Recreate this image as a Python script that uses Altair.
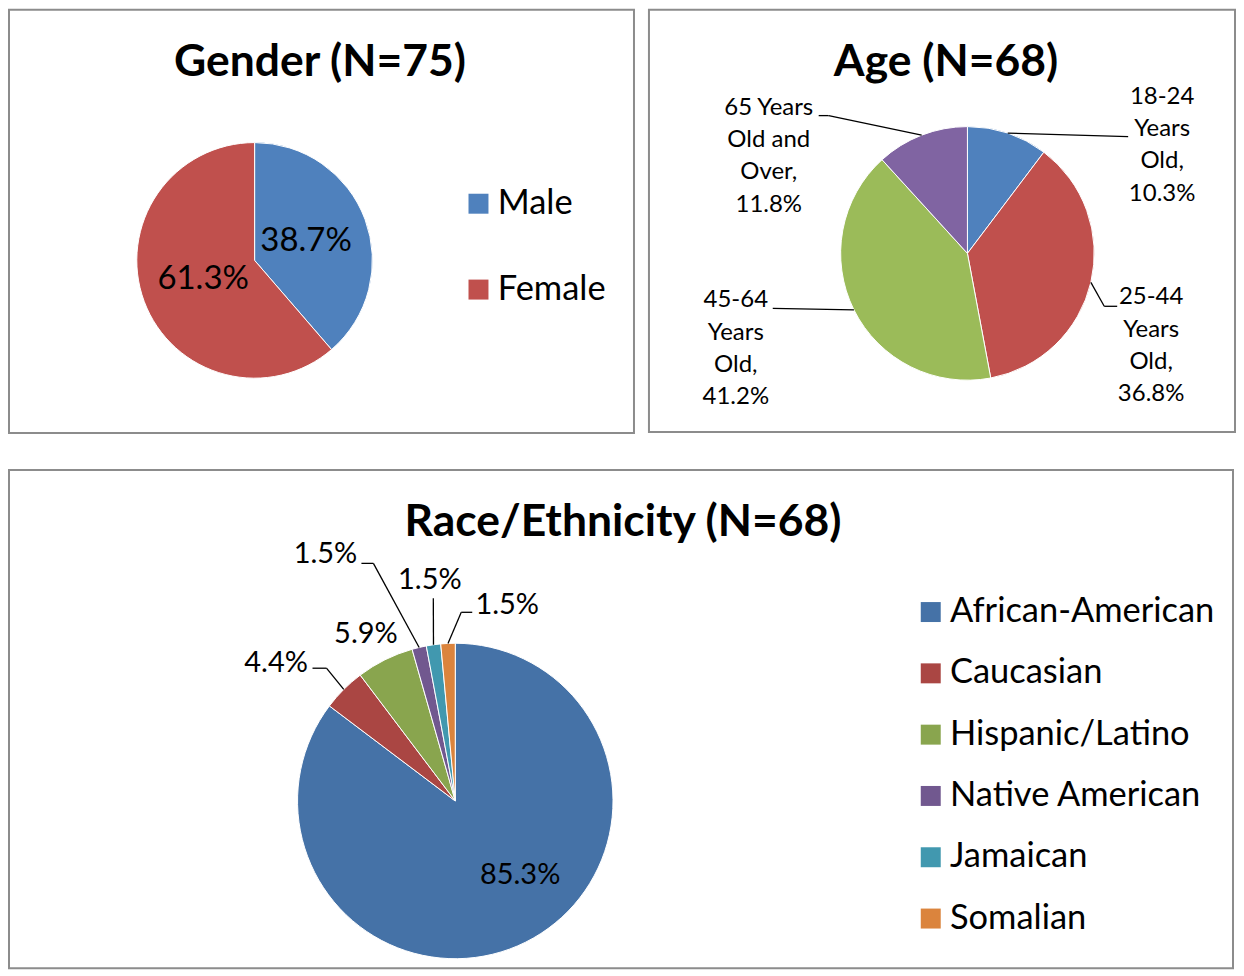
import math
import altair as alt
import pandas as pd

# ---------------- data ----------------
gender_title = "Gender (N=75)"
gender_cats = ["Male", "Female"]
gender_counts = [29, 46]
gender_pct = ["38.7%", "61.3%"]

age_title = "Age (N=68)"
age_cats = ["18-24 Years Old", "25-44 Years Old", "45-64 Years Old", "65 Years Old and Over"]
age_counts = [7, 25, 28, 8]
age_label_lines = [
    ["18-24", "Years", "Old,", "10.3%"],
    ["25-44", "Years", "Old,", "36.8%"],
    ["45-64", "Years", "Old,", "41.2%"],
    ["65 Years", "Old and", "Over,", "11.8%"],
]

race_title = "Race/Ethnicity (N=68)"
race_cats = ["African-American", "Caucasian", "Hispanic/Latino",
             "Native American", "Jamaican", "Somalian"]
race_counts = [58, 3, 4, 1, 1, 1]
race_pct = ["85.3%", "4.4%", "5.9%", "1.5%", "1.5%", "1.5%"]

# ---------------- styles ----------------
FONT = "Lato"
OFFICE = ["#4F81BD", "#C0504D", "#9BBB59", "#8064A2"]
RACE_COLORS = ["#4572A7", "#AA4643", "#89A54E", "#71588F", "#4198AF", "#DB843D"]
BORDER = "#8c8c8c"
TITLE_SIZE = 44.5
LEGEND_SIZE = 34.5

# ---------------- layout (pixels) ----------------
GW, GH = 626, 424
AW, AH = 587, 423
RW, RH = 1226, 499
G_CENTER, G_R = (246, 251), 118
A_CENTER, A_R = (319, 244), 127
R_CENTER, R_R = (447, 331.5), 158
TITLE_Y = 66
AGE_LINE_H = 32.4
# label anchor (relative to pie centre) and leader path after the slice edge
AGE_LAYOUT = [
    dict(pos=(195, -157), path=[(161, -117)]),
    dict(pos=(184, 44), path=[(137, 53), (150, 53)]),
    dict(pos=(-232, 47), path=[(-195, 55)]),
    dict(pos=(-199, -146), path=[(-139, -138), (-149, -138)]),
]
RACE_LAYOUT = [
    dict(pos=(65, 74), path=[]),
    dict(pos=(-179.5, -138), path=[(-129, -133), (-143, -133)]),
    dict(pos=(-89.5, -167.5), path=[]),
    dict(pos=(-130, -247.5), path=[(-82, -238), (-94, -238)]),
    dict(pos=(-25.5, -221.5), path=[(-22, -203)]),
    dict(pos=(52, -196), path=[(6, -189), (17, -189)]),
]


def px_scale(n):
    return alt.Scale(domain=[0, n], range=[0, n], nice=False, zero=False)


def edge_points(counts, center, r):
    total = float(sum(counts))
    cum = 0.0
    pts = []
    for c in counts:
        mid = (cum + c / 2.0) / total * 2 * math.pi
        pts.append((center[0] + r * math.sin(mid), center[1] - r * math.cos(mid)))
        cum += c
    return pts


def pie(cats, counts, colors, center, r, legend):
    df = pd.DataFrame({"cat": cats, "count": counts, "idx": list(range(len(cats)))})
    return alt.Chart(df).mark_arc(radius=r, stroke="white", strokeWidth=1).encode(
        theta=alt.Theta("count:Q", stack=True),
        color=alt.Color("cat:N", scale=alt.Scale(domain=cats, range=colors), legend=legend),
        order=alt.Order("idx:Q"),
        x=alt.value(center[0]),
        y=alt.value(center[1]),
    )


def title(text, x):
    return alt.Chart(pd.DataFrame({"t": [text]})).mark_text(
        font=FONT, fontSize=TITLE_SIZE, fontWeight="bold", align="center",
        baseline="alphabetic", color="black"
    ).encode(x=alt.value(x), y=alt.value(TITLE_Y), text="t:N")


def text_layer(rows, W, H, size):
    return alt.Chart(pd.DataFrame(rows)).mark_text(
        font=FONT, fontSize=size, align="center", baseline="middle", color="black"
    ).encode(
        x=alt.X("px:Q", scale=px_scale(W), axis=None),
        y=alt.Y("py:Q", scale=px_scale(H), axis=None),
        text="text:N",
    )


def leader_layer(segs, W, H):
    return alt.Chart(pd.DataFrame(segs)).mark_rule(color="black", strokeWidth=1.3).encode(
        x=alt.X("x:Q", scale=px_scale(W), axis=None), x2="x2:Q",
        y=alt.Y("y:Q", scale=px_scale(H), axis=None), y2="y2:Q",
    )


def leaders(counts, center, r, layout):
    edges = edge_points(counts, center, r)
    segs = []
    for (ex, ey), lay in zip(edges, layout):
        pts = [(ex, ey)] + [(center[0] + dx, center[1] + dy) for dx, dy in lay["path"]]
        for (x1, y1), (x2, y2) in zip(pts[:-1], pts[1:]):
            segs.append({"x": x1, "y": y1, "x2": x2, "y2": y2})
    return segs


def legend(x, y, row_pad):
    return alt.Legend(
        orient="none", legendX=x, legendY=y, direction="vertical", title=None,
        symbolType="square", symbolSize=400, symbolStrokeWidth=0, symbolOpacity=1,
        labelFont=FONT, labelFontSize=LEGEND_SIZE, labelColor="black", labelLimit=600,
        labelOffset=2, rowPadding=row_pad, padding=0,
    )


# ---------------- Gender ----------------
g_df = pd.DataFrame({"cat": gender_cats, "count": gender_counts,
                     "pct": gender_pct, "idx": list(range(len(gender_cats)))})
g_labels = alt.Chart(g_df).mark_text(
    radius=55, font=FONT, fontSize=33, color="black", align="center", baseline="middle"
).encode(
    theta=alt.Theta("count:Q", stack=True),
    order=alt.Order("idx:Q"),
    text="pct:N",
    x=alt.value(G_CENTER[0]),
    y=alt.value(G_CENTER[1]),
)
gender = alt.layer(
    pie(gender_cats, gender_counts, OFFICE[:2], G_CENTER, G_R, legend(453, 177, 51)),
    g_labels,
    title(gender_title, 311.5),
).properties(width=GW, height=GH)

# ---------------- Age ----------------
a_rows = []
for lines, lay in zip(age_label_lines, AGE_LAYOUT):
    for i, ln in enumerate(lines):
        a_rows.append({"px": A_CENTER[0] + lay["pos"][0],
                       "py": A_CENTER[1] + lay["pos"][1] + i * AGE_LINE_H,
                       "text": ln})
age = alt.layer(
    pie(age_cats, age_counts, OFFICE, A_CENTER, A_R, None),
    leader_layer(leaders(age_counts, A_CENTER, A_R, AGE_LAYOUT), AW, AH),
    text_layer(a_rows, AW, AH, 24),
    title(age_title, 297.5),
).properties(width=AW, height=AH)

# ---------------- Race ----------------
r_rows = [{"px": R_CENTER[0] + lay["pos"][0], "py": R_CENTER[1] + lay["pos"][1], "text": t}
          for t, lay in zip(race_pct, RACE_LAYOUT)]
race = alt.layer(
    pie(race_cats, race_counts, RACE_COLORS, R_CENTER, R_R, legend(906, 125, 26.4)),
    leader_layer(leaders(race_counts, R_CENTER, R_R, RACE_LAYOUT), RW, RH),
    text_layer(r_rows, RW, RH, 29),
    title(race_title, 615),
).properties(width=RW, height=RH)

top = alt.hconcat(gender, age, spacing=13).resolve_scale(
    color="independent", theta="independent", x="independent", y="independent"
).resolve_legend(color="independent")

chart = alt.vconcat(top, race, spacing=35).resolve_scale(
    color="independent", theta="independent", x="independent", y="independent"
).resolve_legend(color="independent").properties(padding=0).configure(
    background="white"
).configure_view(stroke=BORDER, strokeWidth=2, fill="white")

chart.save("out.html", embed_options={"renderer": "svg", "actions": False})
